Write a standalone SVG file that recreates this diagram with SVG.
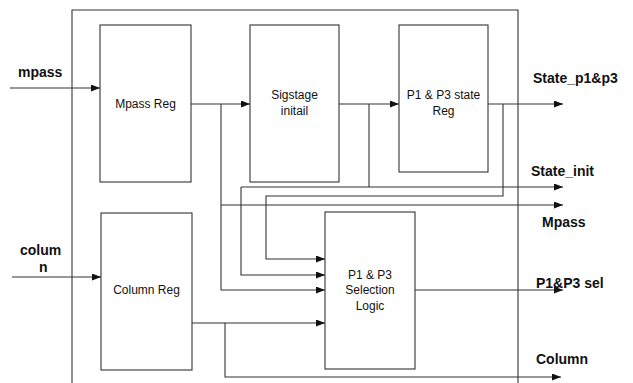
<svg xmlns="http://www.w3.org/2000/svg" width="633" height="383" viewBox="0 0 633 383">
<defs>
<marker id="ah" markerWidth="9" markerHeight="7" refX="9" refY="3.5" orient="auto" markerUnits="userSpaceOnUse">
<path d="M0,0 L9,3.5 L0,7 Z" fill="#111"/>
</marker>
<style>
.box{fill:#fff;stroke:#333;stroke-width:1.1}
.ln{fill:none;stroke:#333;stroke-width:1.1}
.t{font-family:"Liberation Sans",Arial,sans-serif;font-size:12px;fill:#111;text-anchor:middle}
.b{font-family:"Liberation Sans",Arial,sans-serif;font-size:14px;font-weight:bold;fill:#111}
</style>
</defs>
<rect width="633" height="383" fill="#fff"/>
<g id="frame">
<path class="ln" d="M72,383 V10 H518 V383"/>
</g>
<g id="connectors">
<path class="ln" d="M10,88 H100" marker-end="url(#ah)"/>
<path class="ln" d="M12,277 H101" marker-end="url(#ah)"/>
<path class="ln" d="M191,104 H250" marker-end="url(#ah)"/>
<path class="ln" d="M221,104 V290 H325" marker-end="url(#ah)"/>
<path class="ln" d="M221,205 H563" marker-end="url(#ah)"/>
<path class="ln" d="M339,104 H399" marker-end="url(#ah)"/>
<path class="ln" d="M369,104 V187"/>
<path class="ln" d="M241,187 H563" marker-end="url(#ah)"/>
<path class="ln" d="M241,187 V275 H325" marker-end="url(#ah)"/>
<path class="ln" d="M488,104 H563" marker-end="url(#ah)"/>
<path class="ln" d="M503,104 V196 H266 V259 H325" marker-end="url(#ah)"/>
<path class="ln" d="M415,290 H563" marker-end="url(#ah)"/>
<path class="ln" d="M192,323 H325" marker-end="url(#ah)"/>
<path class="ln" d="M225,323 V377 H561" marker-end="url(#ah)"/>
</g>
<g id="mpass-reg">
<rect class="box" x="100" y="25" width="91" height="157"/>
<text class="t" x="145.5" y="108">Mpass Reg</text>
</g>
<g id="sigstage">
<rect class="box" x="250" y="25" width="89" height="157"/>
<text class="t" x="294.5" y="99">Sigstage</text>
<text class="t" x="294.5" y="115">initail</text>
</g>
<g id="state-reg">
<rect class="box" x="399" y="25" width="89" height="147"/>
<text class="t" x="443.5" y="99">P1 &amp; P3 state</text>
<text class="t" x="443.5" y="115">Reg</text>
</g>
<g id="column-reg">
<rect class="box" x="101" y="213" width="91" height="157"/>
<text class="t" x="146.5" y="294">Column Reg</text>
</g>
<g id="selection-logic">
<rect class="box" x="325" y="212" width="90" height="157"/>
<text class="t" x="370" y="279">P1 &amp; P3</text>
<text class="t" x="370" y="294">Selection</text>
<text class="t" x="370" y="310">Logic</text>
</g>
<g id="labels">
<text class="b" x="18" y="77">mpass</text>
<text class="b" x="20" y="255">colum</text>
<text class="b" x="39" y="272">n</text>
<text class="b" x="533" y="83">State_p1&amp;p3</text>
<text class="b" x="531" y="176">State_init</text>
<text class="b" x="542" y="227">Mpass</text>
<text class="b" x="536" y="288">P1&amp;P3 sel</text>
<text class="b" x="536" y="364">Column</text>
</g>
</svg>
